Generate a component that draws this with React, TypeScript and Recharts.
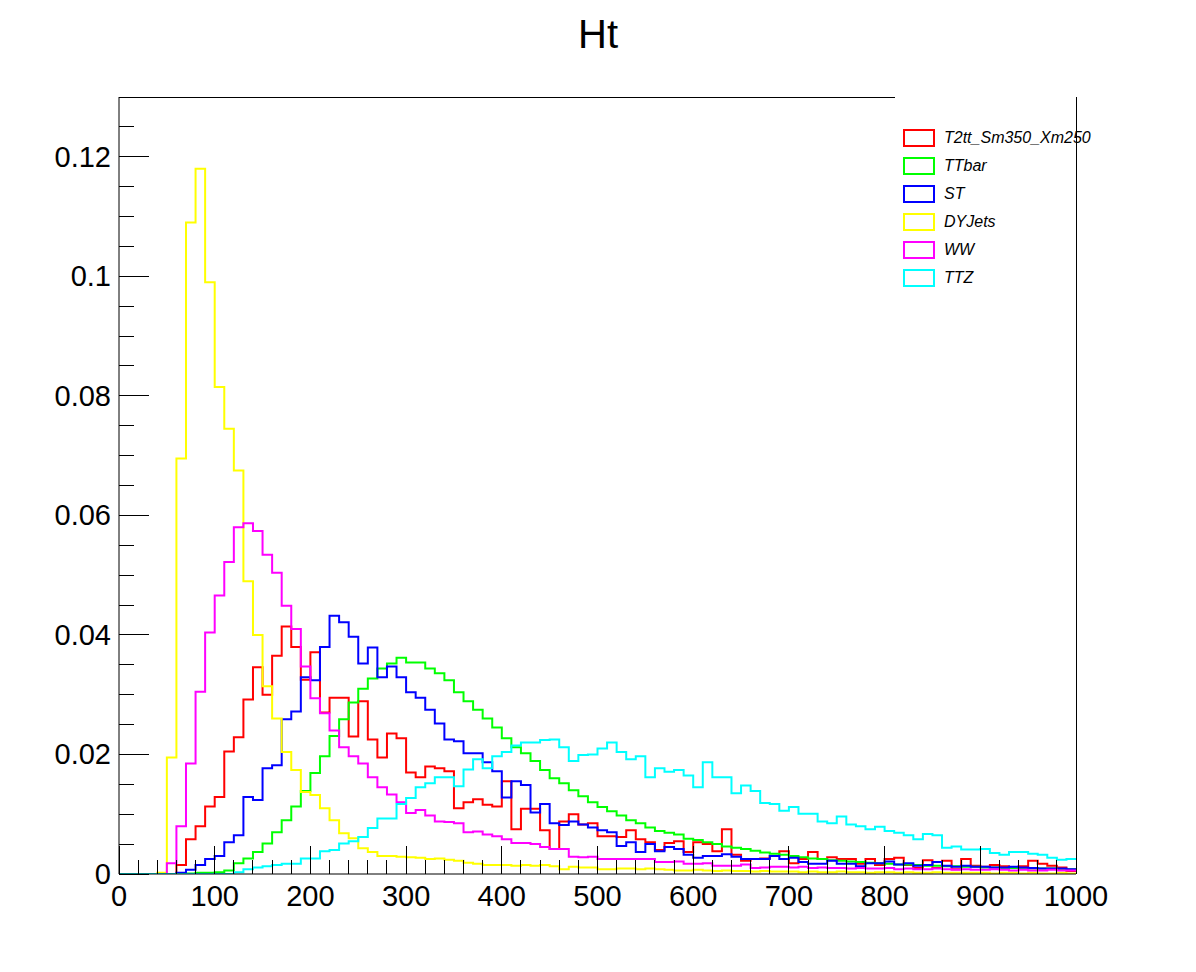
import { LineChart, Line, XAxis, YAxis, ReferenceLine } from "recharts";

const binEdges = Array.from({ length: 101 }, (_, i) => i * 10);

// bin contents, one value per 10-wide bin from 0 to 1000
const t2tt = [
  0, 0, 0, 0, 0, 0, 0.0015, 0.0058, 0.008, 0.0113,
  0.0129, 0.0205, 0.0229, 0.0292, 0.0346, 0.03, 0.0365, 0.0414, 0.038, 0.0325,
  0.0371, 0.027, 0.0295, 0.0295, 0.023, 0.0289, 0.0225, 0.0195, 0.0235, 0.0227,
  0.017, 0.0162, 0.018, 0.0177, 0.0172, 0.011, 0.012, 0.0125, 0.0116, 0.0113,
  0.0155, 0.0075, 0.0109, 0.0109, 0.0073, 0.0042, 0.0088, 0.01, 0.0083, 0.0085,
  0.0063, 0.0063, 0.0062, 0.0073, 0.0058, 0.0053, 0.004, 0.0052, 0.0055, 0.0037,
  0.0053, 0.005, 0.0038, 0.0075, 0.0032, 0.0022, 0.0025, 0.0026, 0.003, 0.0038,
  0.0018, 0.0025, 0.0037, 0.0025, 0.0028, 0.0025, 0.0025, 0.0017, 0.0025, 0.0015,
  0.0025, 0.0027, 0.0015, 0.001, 0.0023, 0.001, 0.0022, 0.0008, 0.0025, 0.0014,
  0.0012, 0.0015, 0.0013, 0.001, 0.0013, 0.0022, 0.0017, 0.0014, 0.0011, 0.0005,
];
const ttbar = [
  0, 0, 0, 0, 0, 0, 0.0001, 0.0001, 0.0002, 0.0002,
  0.0003, 0.0006, 0.0018, 0.0026, 0.0037, 0.0051, 0.007, 0.009, 0.0113, 0.0139,
  0.0169, 0.0197, 0.0231, 0.0259, 0.0287, 0.031, 0.0327, 0.0344, 0.0352, 0.0362,
  0.0354, 0.0354, 0.0344, 0.0336, 0.0324, 0.0304, 0.0289, 0.0275, 0.026, 0.0245,
  0.0227, 0.0212, 0.0202, 0.0189, 0.0174, 0.016, 0.0152, 0.014, 0.013, 0.012,
  0.0112, 0.0105, 0.0098, 0.009, 0.0085, 0.0078, 0.0072, 0.0069, 0.0066, 0.0059,
  0.0057, 0.0053, 0.005, 0.0046, 0.0044, 0.0042, 0.0039, 0.0036, 0.0034, 0.0032,
  0.003, 0.0028, 0.0026, 0.0025, 0.0023, 0.0022, 0.0021, 0.002, 0.0019, 0.0018,
  0.0017, 0.0016, 0.0016, 0.0015, 0.0014, 0.0014, 0.0013, 0.0013, 0.0012, 0.0012,
  0.0011, 0.0011, 0.001, 0.001, 0.001, 0.0009, 0.0009, 0.0009, 0.0008, 0.0008,
];
const st = [
  0, 0, 0, 0, 0, 0, 0.0002, 0.0007, 0.0015, 0.0025,
  0.003, 0.0053, 0.0065, 0.0129, 0.0124, 0.0177, 0.0182, 0.0259, 0.0272, 0.0329,
  0.0324, 0.038, 0.0432, 0.0421, 0.0397, 0.0352, 0.0379, 0.0329, 0.0347, 0.0329,
  0.0304, 0.0295, 0.0275, 0.0252, 0.0225, 0.0222, 0.0202, 0.0202, 0.0187, 0.0172,
  0.0128, 0.0155, 0.0149, 0.0103, 0.0117, 0.0085, 0.0082, 0.0088, 0.0083, 0.0078,
  0.0073, 0.007, 0.0047, 0.0053, 0.0037, 0.005, 0.0038, 0.0045, 0.0042, 0.0032,
  0.0027, 0.003, 0.003, 0.0033, 0.0029, 0.0025, 0.0025, 0.0025, 0.003, 0.0025,
  0.0027, 0.002, 0.0017, 0.0017, 0.0022, 0.0017, 0.0017, 0.0013, 0.0018, 0.0018,
  0.0021, 0.0016, 0.0018, 0.0014, 0.0015, 0.002, 0.0014, 0.0012, 0.0014, 0.0012,
  0.0012, 0.0011, 0.0011, 0.0012, 0.0011, 0.001, 0.0009, 0.0009, 0.0009, 0.0008,
];
const dyjets = [
  0, 0, 0, 0, 0.0002, 0.0195, 0.0695, 0.109, 0.118, 0.099,
  0.0815, 0.0745, 0.0675, 0.049, 0.04, 0.0314, 0.026, 0.0204, 0.0174, 0.0137,
  0.0132, 0.011, 0.009, 0.0068, 0.006, 0.0043, 0.0037, 0.003, 0.003, 0.0029,
  0.0028, 0.0027, 0.0025, 0.0026, 0.0024, 0.0022, 0.0019, 0.0017, 0.0015, 0.0015,
  0.0015, 0.0014, 0.0015, 0.0014, 0.0015, 0.0013, 0.0008, 0.0012, 0.0011, 0.0011,
  0.0008, 0.0008, 0.0009, 0.0009, 0.0008, 0.0009, 0.0008, 0.0007, 0.0006, 0.0006,
  0.0007, 0.0006, 0.0005, 0.0006, 0.0005, 0.0005, 0.0004, 0.0005, 0.0004, 0.0004,
  0.0004, 0.0003, 0.0004, 0.0003, 0.0003, 0.0004, 0.0003, 0.0003, 0.0002, 0.0003,
  0.0003, 0.0002, 0.0003, 0.0002, 0.0002, 0.0003, 0.0002, 0.0002, 0.0002, 0.0002,
  0.0002, 0.0001, 0.0002, 0.0002, 0.0001, 0.0002, 0.0001, 0.0001, 0.0002, 0.0001,
];
const ww = [
  0, 0, 0, 0, 0, 0.0018, 0.008, 0.0185, 0.0305, 0.0404,
  0.0466, 0.0522, 0.058, 0.0587, 0.0574, 0.0534, 0.0504, 0.0449, 0.041, 0.0347,
  0.0294, 0.0269, 0.024, 0.0212, 0.0197, 0.0185, 0.0162, 0.0145, 0.0133, 0.012,
  0.0102, 0.0107, 0.0098, 0.0088, 0.0087, 0.0085, 0.007, 0.0071, 0.0066, 0.0063,
  0.0058, 0.0052, 0.0052, 0.005, 0.0045, 0.0042, 0.0042, 0.0029, 0.0028, 0.0029,
  0.0025, 0.0025, 0.0025, 0.0025, 0.0025, 0.0025, 0.002, 0.002, 0.0021, 0.0017,
  0.0017, 0.0018, 0.0014, 0.0014, 0.0014, 0.0016, 0.001, 0.0011, 0.0012, 0.0012,
  0.0011, 0.0012, 0.001, 0.0011, 0.001, 0.001, 0.0009, 0.001, 0.0009, 0.0009,
  0.001, 0.0008, 0.0009, 0.0008, 0.0008, 0.0009, 0.0008, 0.0007, 0.0008, 0.0007,
  0.0007, 0.0008, 0.0007, 0.0006, 0.0007, 0.0006, 0.0006, 0.0007, 0.0006, 0.0006,
];
const ttz = [
  0, 0, 0, 0, 0, 0, 0, 0, 0, 0,
  0, 0, 0.0003, 0.0008, 0.0011, 0.0013, 0.0015, 0.0017, 0.0017, 0.0026,
  0.0026, 0.0038, 0.004, 0.0051, 0.0055, 0.0062, 0.0077, 0.0093, 0.0093, 0.0117,
  0.0127, 0.0145, 0.0152, 0.0162, 0.0162, 0.0147, 0.0175, 0.0192, 0.0177, 0.0197,
  0.0204, 0.0215, 0.022, 0.022, 0.0224, 0.0225, 0.0212, 0.0189, 0.0199, 0.02,
  0.021, 0.022, 0.0204, 0.0192, 0.0197, 0.0162, 0.0177, 0.0171, 0.0174, 0.0165,
  0.0145, 0.0187, 0.0162, 0.0162, 0.0135, 0.0148, 0.0139, 0.0119, 0.0117, 0.0106,
  0.0112, 0.0101, 0.0101, 0.0088, 0.0085, 0.0096, 0.0083, 0.008, 0.0075, 0.0079,
  0.0072, 0.0069, 0.0065, 0.0058, 0.0067, 0.0065, 0.0044, 0.0046, 0.0041, 0.0041,
  0.0042, 0.0035, 0.0032, 0.0037, 0.0037, 0.0034, 0.0032, 0.0027, 0.0024, 0.0025,
];

const series = [
  { key: "T2tt_Sm350_Xm250", values: t2tt, color: "#ff0000" },
  { key: "TTbar", values: ttbar, color: "#00ff00" },
  { key: "ST", values: st, color: "#0000ff" },
  { key: "DYJets", values: dyjets, color: "#ffff00" },
  { key: "WW", values: ww, color: "#ff00ff" },
  { key: "TTZ", values: ttz, color: "#00ffff" },
];

const xTicks = Array.from({ length: 51 }, (_, i) => i * 20);
const yTicks = Array.from({ length: 27 }, (_, i) => Number((i * 0.005).toFixed(3)));

const data = binEdges.map((x, i) => {
  const row: Record<string, number> = { x };
  series.forEach((s) => {
    row[s.key] = s.values[Math.min(i, s.values.length - 1)];
  });
  return row;
});

const W = 1196;
const H = 972;
const LEFT = 119;
const RIGHT = 1076;
const TOP = 97;
const BOTTOM = 874;
const Y_AXIS_W = 60;
const X_AXIS_H = 40;
const font = "'Liberation Sans', Arial, sans-serif";

const XTick = (props: any) => {
  const { x, payload } = props;
  const v = payload.value;
  const major = v % 100 === 0;
  return (
    <g>
      <line x1={x} x2={x} y1={BOTTOM} y2={BOTTOM - (major ? 28 : 14)} stroke="#000" shapeRendering="crispEdges" />
      {major && (
        <text x={x} y={BOTTOM + 32} textAnchor="middle" fontSize={29} fontFamily={font} fill="#000">
          {v}
        </text>
      )}
    </g>
  );
};

const YTick = (props: any) => {
  const { y, payload } = props;
  const v = payload.value;
  const major = Math.round(v * 1000) % 20 === 0;
  return (
    <g>
      <line x1={LEFT} x2={LEFT + (major ? 30 : 15)} y1={y} y2={y} stroke="#000" shapeRendering="crispEdges" />
      {major && (
        <text x={LEFT - 8} y={y + 10} textAnchor="end" fontSize={29} fontFamily={font} fill="#000">
          {v === 0 ? "0" : String(v)}
        </text>
      )}
    </g>
  );
};

export default function App() {
  return (
    <div style={{ position: "relative", width: W, height: H, margin: -8, background: "#fff" }}>
      <div
        style={{
          position: "absolute",
          top: 12,
          width: W,
          textAlign: "center",
          fontFamily: font,
          fontSize: 40,
        }}
      >
        Ht
      </div>
      <LineChart
        width={W}
        height={H}
        data={data}
        margin={{ top: TOP, left: LEFT - Y_AXIS_W, right: W - RIGHT, bottom: H - BOTTOM - X_AXIS_H }}
      >
        <XAxis
          dataKey="x"
          type="number"
          domain={[0, 1000]}
          ticks={xTicks}
          interval={0}
          height={X_AXIS_H}
          tickLine={false}
          axisLine={{ stroke: "#000" }}
          tick={XTick}
        />
        <YAxis
          type="number"
          domain={[0, 0.13]}
          ticks={yTicks}
          interval={0}
          width={Y_AXIS_W}
          tickLine={false}
          axisLine={{ stroke: "#000" }}
          tick={YTick}
          allowDataOverflow
        />
        <ReferenceLine segment={[{ x: 0, y: 0.13 }, { x: 811, y: 0.13 }]} stroke="#000" shapeRendering="crispEdges" />
        <ReferenceLine x={1000} stroke="#000" shapeRendering="crispEdges" />
        {series.map((s) => (
          <Line
            key={s.key}
            dataKey={s.key}
            type="stepAfter"
            stroke={s.color}
            strokeWidth={2}
            dot={false}
            activeDot={false}
            isAnimationActive={false}
          />
        ))}
      </LineChart>
      <div style={{ position: "absolute", left: 903, top: 124, fontFamily: font, fontStyle: "italic", fontSize: 16 }}>
        {series.map((s) => (
          <div key={s.key} style={{ display: "flex", alignItems: "center", height: 28 }}>
            <span
              style={{
                display: "inline-block",
                width: 28,
                height: 14,
                border: `2px solid ${s.color}`,
                marginRight: 9,
              }}
            />
            {s.key}
          </div>
        ))}
      </div>
    </div>
  );
}
